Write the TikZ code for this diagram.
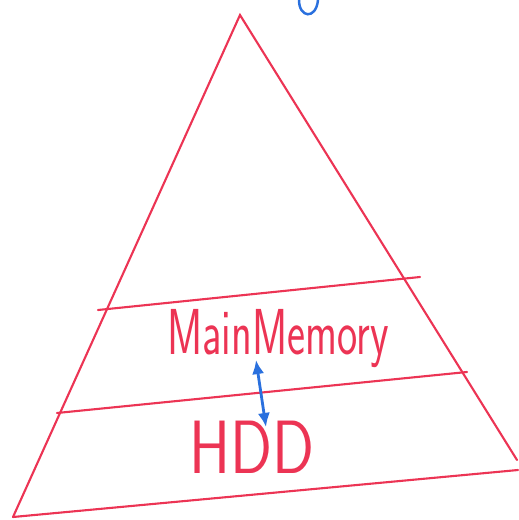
\documentclass[tikz,border=0pt]{standalone}
\usepackage{xcolor}
\usepackage{tikz}
\usetikzlibrary{calc, positioning, arrows.meta}

\definecolor{penred}{RGB}{236,52,84}
\definecolor{penblue}{RGB}{42,112,222}

\begin{document}
\begin{tikzpicture}[>={Latex[length=8pt, width=7pt]}, x=0.02cm, y=-0.02cm,
    pen/.style={penred, line width=1.2pt, line cap=round},
    label/.style={penred, font=\sffamily, inner sep=0pt, transform shape}]
    \useasboundingbox (0,0) rectangle (519,520);

    % Tam giác
    \draw[pen] (13,517) -- (240,15) -- (517,460);
    \draw[pen] (13,517) -- (518,470);

    % Các tầng
    \draw[pen] (98,310) -- (420,277);
    \draw[pen] (57,413) -- (467,372);

    % Nhãn
    \node[label, xscale=0.66, font=\sffamily\fontsize{37}{40}\selectfont] (mm) at (278,339) {MainMemory};
    \node[label, xscale=0.82, font=\sffamily\fontsize{43}{46}\selectfont] (hdd) at (252,447) {HDD};

    % Mũi tên trao đổi
    \coordinate (up) at (256,360);
    \coordinate (down) at (266,427);
    \draw[<->, penblue, line width=1.6pt] (up) -- (down);

    % Nét xanh phía trên
    \draw[penblue, line width=1.4pt] (299,0) .. controls (299,18) and (316,20) .. (318,0);
\end{tikzpicture}
\end{document}
